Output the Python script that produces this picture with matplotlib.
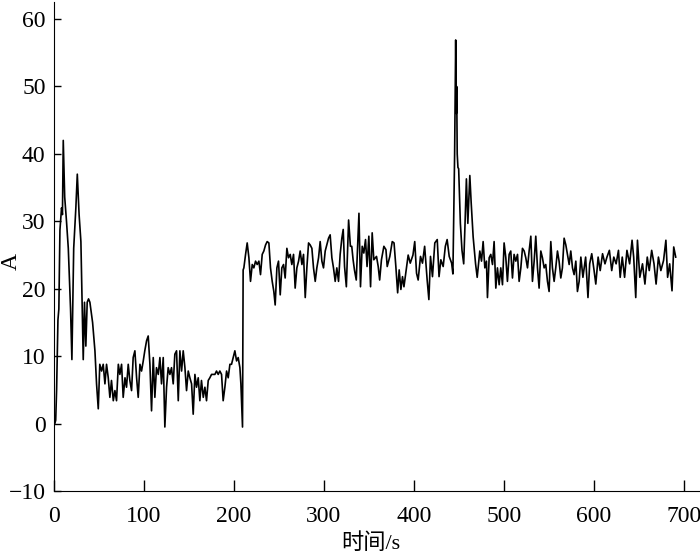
import matplotlib
matplotlib.use('Agg')
import matplotlib.pyplot as plt

'''current over time, read off the reference chart'''

# start-up peaks (0-43 s)
t_start = [0, 1, 2, 3, 4.5, 5.5, 6.7, 8.5, 9.5, 10.4, 12, 14, 16, 18.5, 20, 22, 24.4, 26, 28, 30,
           32.6, 34, 35.5, 37, 38.5, 40, 43]
a_start = [0, 0, 0.5, 5, 15.4, 17, 28.7, 32, 31, 42, 33.6, 30, 26, 17, 9.5, 26, 32, 37, 31, 27,
           9.5, 18, 11.5, 18, 18.5, 18, 15]

# low level (45-210 s)
t_low = [45.6, 47.4, 49.3, 51, 53, 54.8, 56.7, 58.5, 60.4, 62.2,
         64, 66, 67.8, 69.6, 71.6, 73.3, 75.2, 77, 79, 80.7,
         82.6, 84.4, 86.3, 88.1, 90, 91.9, 93.7, 95.6, 97.4, 99.3,
         101, 103, 104.8, 106.7, 108.5, 110.4, 112.2, 114, 116, 117.8,
         119.6, 121.5, 123.3, 125.2, 127, 128.9, 130.7, 132.6, 134.4, 136.3,
         138.2, 140, 141.9, 143.7, 145.6, 147.4, 149.3, 151.1, 153, 154.8,
         156.7, 158.5, 160.4, 162.2, 164, 166, 167.8, 169.6, 171.5, 173.3,
         175.2, 177, 178.9, 180.7, 182.6, 184.4, 186.3, 188.1, 190, 191.9,
         193.7, 195.6, 197.4, 199.3, 201.1, 203, 204.8, 206.7, 207.8, 209.6]
a_low = [10.8, 5.9, 2.2, 8.8, 7.8, 8.8, 5.9, 8.8, 6.8, 3.9,
         6.4, 3.4, 4.9, 3.4, 8.8, 7.3, 8.8, 3.9, 6.8, 5.4,
         8.8, 6.4, 4.9, 9.8, 10.8, 6.8, 3.9, 8.8, 7.8, 9.3,
         10.8, 12.3, 13, 8.8, 1.9, 9.8, 3.9, 8.3, 7.3, 9.8,
         5.9, 9.8, -0.5, 5.4, 8.3, 7.3, 8.3, 5.9, 10.3, 10.8,
         3.4, 10.8, 7.8, 10.8, 8.3, 4.9, 7.8, 6.8, 5.9, 1.4,
         7.3, 5.4, 6.8, 3.4, 6.4, 3.9, 5.4, 3.4, 6.4, 6.8,
         7.3, 7.3, 7.3, 7.8, 7.3, 7.8, 7.3, 3.4, 5.4, 7.8,
         6.8, 8.8, 8.8, 9.8, 10.8, 9.3, 9.8, 8.3, 5.9, -0.5]

# high level (210-330 s)
t_high1 = [210.3, 211.1, 213, 214.8, 216.7, 218.5, 220.4, 222.2, 224.1, 225.9,
           227.8, 229.6, 231.5, 233.3, 235.2, 237, 238.9, 240.7, 242.6, 244.4,
           245.9, 247.8, 249.6, 251.5, 253.3, 255.2, 257, 258.9, 260.7, 262.6,
           264.4, 266.3, 268.1, 270, 271.9, 273.7, 275.6, 277.4, 279.3, 281.1,
           283, 284.8, 286.7, 288.5, 290.4, 292.2, 294.1, 295.9, 297.8, 299.6,
           301.5, 303.3, 305.2, 307, 308.9, 310.7, 312.6, 314.4, 316.3, 318.1,
           320, 321.5, 323, 325, 327.5, 329.5]
a_high1 = [22.8, 23.1, 25.1, 26.8, 24.6, 21.1, 23.6, 23.1, 24.1, 23.6,
           24.1, 22.1, 25.1, 25.6, 26.5, 27, 26.8, 23.1, 21.1, 19.6,
           17.6, 23.1, 24.1, 19.1, 23.1, 23.6, 21.6, 26, 24.6, 25.1,
           23.6, 25.1, 20.1, 23.1, 24.1, 25.6, 23.6, 25.1, 18.7, 23.1,
           26.8, 26.5, 26, 23.1, 21.1, 23.1, 24.6, 27, 24.1, 23.1,
           25.6, 26.5, 27.5, 28, 24.6, 23.1, 21.1, 23.1, 21.1, 25.1,
           27.5, 28.8, 23.3, 20.3, 30.2, 26.3]

# high level (330-442 s)
t_high2 = [331, 332.5, 334, 336, 339, 340.7, 342.6, 344.4, 346.3, 348, 350, 351.9, 353.7, 355.5, 358.5, 360.4, 362, 364, 366.7, 369,
           370.4, 373.3, 376, 378, 380, 382, 383.7, 385.6, 387.4, 389, 392, 393.7, 396, 399, 401, 403, 404.8, 407.4, 409.6, 412,
           414.8, 416.7, 418.5, 420.7, 423.3, 426, 428, 430, 432.6, 435, 437, 439.3, 442]
a_high2 = [26.3, 24.3, 22.8, 21.3, 31.2, 20.3, 26.3, 25.3, 27.3, 23.3, 27.8, 20.3, 28.3, 24.3, 24.8, 23.3, 21.3, 24.3, 26.3, 25.8,
           23.3, 24.8, 27, 26.8, 23.3, 19.4, 22.8, 19.9, 21.8, 20.3, 23.3, 25, 23.8, 25, 27, 22.3, 21.3, 24.8, 23.8, 26.3,
           21.3, 18.4, 24.8, 21.8, 26.8, 27.3, 21.8, 24.3, 23.3, 26.3, 27.3, 24.8, 23.8]

# second spike (443-471 s)
t_spike = [443.4, 445.3, 446.5, 447.2, 447.6, 448.2, 449, 449.8, 451.7, 453.5, 455.4, 456.9,
           458.4, 460, 462.2, 463.7, 465.9, 468.6, 470.4]
a_spike = [22.2, 39.8, 56.9, 46, 50, 40, 38, 37.8, 29.7, 25.7, 23.7, 29.7,
           36.3, 29.7, 36.8, 32.8, 27.7, 23.7, 21.7]

# tail (473-691 s)
t_tail = [473.3, 475.2, 477, 478.9, 480.7, 481.8, 483.7, 485.5, 487.4, 489.2,
          491.1, 492.9, 494.8, 496.6, 498.5, 500.3, 502.2, 504, 505.9, 507.7,
          509.6, 511.4, 513.3, 515.2, 517, 518.9, 520.7, 522.6, 524.4, 526.3,
          528.1, 530, 531.8, 533.7, 535.5, 537.4, 539.2, 541.1, 542.9, 544.8,
          546.6, 548.5, 550.3, 552.2, 554, 555.9, 557.7, 559.6, 561.4, 563.3,
          565.1, 567, 568.9, 570.7, 572.6, 574.4, 576.3, 578.1, 580, 581.8, 583.7,
          585.6, 587.9, 590.9, 593.5, 595.4, 597.7, 600.3, 602.2, 604.8, 607.1,
          609.7, 612.4, 614.6, 617.3, 619.9, 622.2, 624.8, 627.4, 629.3, 631.6,
          634.2, 636.8, 639.8, 642.5, 644.3, 646.6, 648.5, 651.1, 654.1, 656.8,
          659.4, 661.6, 664.3, 666.9, 669.2, 671.8, 674.5, 677.5, 680.1, 682,
          684.3, 686.9, 688.8, 691]
a_tail = [25.6, 24.1, 27, 23.1, 24.1, 18.7, 24.6, 25.1, 23.6, 27,
          20.1, 23.1, 20.6, 23.1, 20.6, 26.8, 24.6, 21.1, 25.1, 25.6,
          21.6, 25.1, 24.1, 25.1, 21.1, 23.1, 26, 25.6, 24.6, 23.1,
          25.6, 27.8, 21.1, 24.1, 27.8, 23.1, 20.1, 25.6, 24.6, 23.1,
          23.6, 21.1, 19.6, 27, 23.1, 21.1, 23.1, 25.6, 24.1, 21.6,
          23.1, 27.5, 26.5, 25.1, 23.6, 25.6, 23.1, 22.1, 24.1, 19.6, 21.1,
          24.7, 21.7, 24.7, 18.7, 23.7, 25.2, 22.7, 20.7, 24.7, 22.7,
          25.2, 23.7, 24.7, 25.7, 22.7, 24.7, 23.7, 25.7, 21.7, 24.7,
          21.7, 25.7, 23.7, 27.2, 24.7, 18.7, 27.2, 21.7, 23.7, 20.7,
          24.7, 22.7, 25.7, 23.7, 20.7, 24.7, 22.7, 24.2, 27.2, 21.7,
          23.7, 19.7, 26.2, 24.7]

time_s = t_start + t_low + t_high1 + t_high2 + t_spike + t_tail
current_a = a_start + a_low + a_high1 + a_high2 + a_spike + a_tail

x_ticks = [0, 100, 200, 300, 400, 500, 600, 700]
y_ticks = [-10, 0, 10, 20, 30, 40, 50, 60]

plt.rcParams['font.family'] = ['Liberation Serif', 'Noto Sans CJK SC']

fig = plt.figure(figsize=(7, 5.53), dpi=100)
ax = fig.add_axes([0.077, 0.112, 0.923, 0.884])
ax.plot(time_s, current_a, color='black', linewidth=1.2)

ax.set_xlim(0, 718)
ax.set_ylim(-10, 62.5)
ax.set_xticks(x_ticks)
ax.set_yticks(y_ticks)
ax.tick_params(direction='in', width=1, labelsize=17)
ax.tick_params(axis='y', length=5, pad=6)
ax.tick_params(axis='x', length=8, pad=11)
ax.spines['top'].set_visible(False)
ax.spines['right'].set_visible(False)

# labels placed by hand, the CJK font has tall line boxes
ax.set_xlabel('时间/s', fontsize=16, va='center')
ax.xaxis.set_label_coords(0.49, -0.107)
ax.set_ylabel('A', fontsize=17)
ax.yaxis.set_label_coords(-0.05, 0.47)

fig.savefig('out.png', dpi=100)
